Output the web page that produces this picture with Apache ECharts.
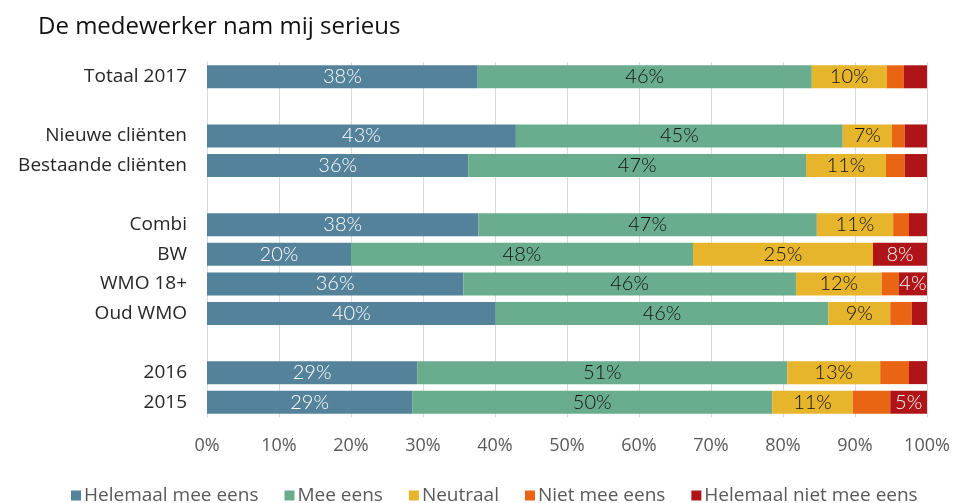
<!DOCTYPE html>
<html><head><meta charset="utf-8">
<script src="https://cdn.jsdelivr.net/npm/echarts@6/dist/echarts.min.js"></script>
<style>html,body{margin:0;padding:0;background:#fff}#c{width:953px;height:503px}</style>
</head><body><div id="c"></div>
<script>
const categories = ['Totaal 2017', '', 'Nieuwe cliënten', 'Bestaande cliënten', '', 'Combi', 'BW', 'WMO 18+', 'Oud WMO', '', '2016', '2015'];
const seriesNames = ['Helemaal mee eens', 'Mee eens', 'Neutraal', 'Niet mee eens', 'Helemaal niet mee eens'];
const helemaalMeeEens = [37.6, '-', 42.9, 36.3, '-', 37.7, 20.0, 35.6, 40.1, '-', 29.2, 28.5];
const meeEens        = [46.4, '-', 45.4, 46.9, '-', 47.0, 47.5, 46.2, 46.2, '-', 51.4, 50.0];
const neutraal       = [10.4, '-', 6.8, 11.1, '-', 10.6, 25.0, 11.9, 8.6, '-', 12.9, 11.2];
const nietMeeEens    = [2.4, '-', 1.8, 2.6, '-', 2.2, 0, 2.4, 3.0, '-', 4.0, 5.2];
const helemaalNiet   = [3.2, '-', 3.1, 3.1, '-', 2.5, 7.5, 3.9, 2.1, '-', 2.5, 5.1];
const xTicks = [0, 10, 20, 30, 40, 50, 60, 70, 80, 90, 100];

const colors = ['#53829A', '#69AC8E', '#E6B52C', '#E96514', '#AF1518'];
const labelColors = ['#ffffff', '#111111', '#111111', '#111111', '#ffffff'];
const minLabel = [0, 0, 0, 101, 3.5];
const dataSets = [helemaalMeeEens, meeEens, neutraal, nietMeeEens, helemaalNiet];
const labelFont = 'Lato, "Open Sans", sans-serif';

const chart = echarts.init(document.getElementById('c'));
chart.setOption({
  animation: false,
  color: colors,
  title: {
    text: 'De medewerker nam mij serieus',
    left: 33, top: 10,
    textStyle: {fontFamily: '"Open Sans", sans-serif', fontSize: 24, fontWeight: 'normal', color: '#111'}
  },
  legend: {
    top: 481, left: 66,
    itemWidth: 10, itemHeight: 10, itemGap: 26,
    icon: 'rect',
    textStyle: {fontFamily: '"Open Sans", sans-serif', fontSize: 19, color: '#595959', padding: [0, 0, 0, -2]},
    data: seriesNames
  },
  grid: {left: 207, right: 26, top: 62, bottom: 86},
  xAxis: {
    type: 'value', min: 0, max: 100, interval: 10,
    axisLabel: {
      formatter: v => xTicks.includes(v) ? v + '%' : '',
      fontFamily: '"Open Sans", sans-serif', fontSize: 18, color: '#595959', margin: 20
    },
    splitLine: {lineStyle: {color: '#D9D9D9', width: 1}},
    axisLine: {show: false}, axisTick: {show: false}
  },
  yAxis: {
    type: 'category', inverse: true, data: categories,
    axisLine: {show: true, lineStyle: {color: '#D9D9D9'}},
    axisTick: {show: false},
    axisLabel: {fontFamily: '"Open Sans", sans-serif', fontSize: 19, color: '#262626', margin: 20}
  },
  series: dataSets.map((d, i) => ({
    name: seriesNames[i], type: 'bar', stack: 'all', barWidth: 23,
    data: d,
    itemStyle: {color: colors[i]},
    label: {
      show: true, position: 'inside',
      fontFamily: labelFont, fontSize: 20, fontWeight: 300, color: labelColors[i],
      formatter: p => (typeof p.value === 'number' && p.value >= minLabel[i] && p.value > 0) ? Math.round(p.value) + '%' : ''
    }
  }))
});
</script></body></html>
